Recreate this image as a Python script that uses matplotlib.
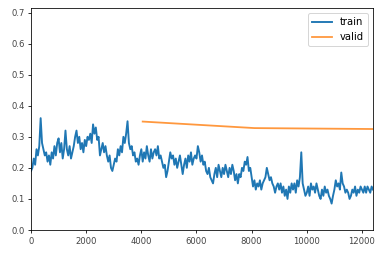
import numpy as np
import matplotlib
matplotlib.use("Agg")
import matplotlib.pyplot as plt

# train loss, one value every 50 iterations
train_loss = [
    0.19, 0.20, 0.23, 0.21, 0.26, 0.24, 0.27, 0.36, 0.28, 0.26,
    0.24, 0.25, 0.22, 0.24, 0.21, 0.25, 0.23, 0.27, 0.24, 0.28,
    0.295, 0.25, 0.28, 0.23, 0.26, 0.32, 0.26, 0.24, 0.27, 0.23,
    0.25, 0.27, 0.30, 0.32, 0.28, 0.30, 0.26, 0.28, 0.25, 0.29,
    0.27, 0.30, 0.29, 0.31, 0.28, 0.34, 0.31, 0.33, 0.29, 0.30,
    0.24, 0.26, 0.28, 0.25, 0.27, 0.24, 0.22, 0.24, 0.20, 0.19,
    0.21, 0.23, 0.22, 0.26, 0.24, 0.27, 0.25, 0.30, 0.28, 0.31,
    0.35, 0.28, 0.26, 0.27, 0.24, 0.25, 0.22, 0.23, 0.21, 0.24,
    0.26, 0.22, 0.25, 0.23, 0.27, 0.24, 0.22, 0.26, 0.23, 0.25,
    0.26, 0.24, 0.27, 0.23, 0.24, 0.22, 0.20, 0.21, 0.17, 0.19,
    0.22, 0.25, 0.23, 0.24, 0.21, 0.23, 0.20, 0.22, 0.24, 0.21,
    0.18, 0.21, 0.23, 0.20, 0.24, 0.22, 0.25, 0.21, 0.23, 0.24,
    0.23, 0.27, 0.25, 0.22, 0.24, 0.21, 0.22, 0.19, 0.18, 0.20,
    0.17, 0.16, 0.15, 0.18, 0.20, 0.17, 0.21, 0.19, 0.17, 0.20,
    0.18, 0.21, 0.19, 0.17, 0.20, 0.18, 0.21, 0.19, 0.16, 0.18,
    0.15, 0.18, 0.17, 0.20, 0.19, 0.22, 0.21, 0.235, 0.19, 0.20,
    0.17, 0.14, 0.16, 0.13, 0.15, 0.14, 0.16, 0.13, 0.15, 0.16,
    0.17, 0.20, 0.18, 0.16, 0.17, 0.15, 0.14, 0.12, 0.14, 0.15,
    0.13, 0.15, 0.12, 0.14, 0.11, 0.13, 0.10, 0.14, 0.12, 0.15,
    0.13, 0.15, 0.12, 0.16, 0.14, 0.17, 0.25, 0.15, 0.13, 0.11,
    0.12, 0.14, 0.11, 0.15, 0.13, 0.14, 0.12, 0.15, 0.13, 0.11,
    0.10, 0.13, 0.11, 0.14, 0.12, 0.13, 0.11, 0.10, 0.085, 0.11,
    0.13, 0.16, 0.14, 0.15, 0.13, 0.185, 0.15, 0.14, 0.12, 0.13,
    0.12, 0.10, 0.11, 0.13, 0.12, 0.14, 0.11, 0.13, 0.12, 0.14,
    0.13, 0.12, 0.14, 0.12, 0.14, 0.13, 0.12, 0.14, 0.13,
]
train_iter = np.linspace(0, 12400, len(train_loss))

valid_iter = [4050, 8100, 12400]
valid_loss = [0.349, 0.328, 0.325]

fig = plt.figure(figsize=(388/72, 255/72), dpi=72)
ax = fig.add_axes([31/388, 25/255, 342/388, 222/255])

ax.plot(train_iter, train_loss, color="tab:blue", lw=1.9, label="train")
ax.plot(valid_iter, valid_loss, color="tab:orange", lw=1.8, alpha=0.8, label="valid")

ax.set_xlim(0, 12400)
ax.set_ylim(0, 0.7145)
ax.set_xticks([0, 2000, 4000, 6000, 8000, 10000, 12000])
ax.set_yticks([0.0, 0.1, 0.2, 0.3, 0.4, 0.5, 0.6, 0.7])
ax.tick_params(labelsize=8.5, labelcolor="#444444", length=3)
ax.legend(loc="upper right", fontsize=10)

fig.savefig("out.png", dpi=72)
